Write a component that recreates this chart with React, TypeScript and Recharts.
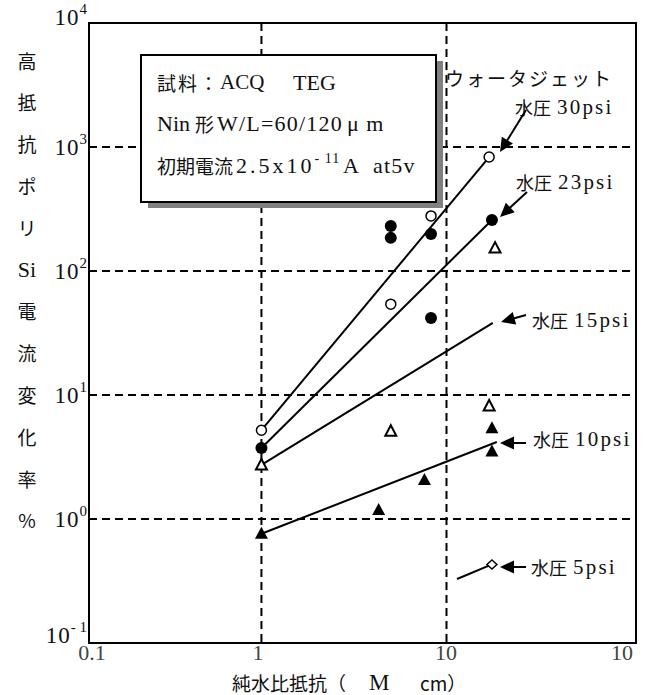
import React from 'react';
import { ComposedChart, Scatter, XAxis, YAxis, CartesianGrid, ReferenceArea } from 'recharts';

// ---- data ----
const X_DOMAIN = [0.117, 105.7];
const X_TICKS = [0.117, 1, 10, 105.7];
const X_TICK_LABELS = ['0.1', '1', '10', '10'];
const Y_DOMAIN = [0.1, 10000];
const Y_TICKS = [0.1, 1, 10, 100, 1000, 10000];

// 水圧 30psi (open circles)
const P30 = [
  { x: 1, y: 5.2 },
  { x: 5.0, y: 54 },
  { x: 8.25, y: 278 },
  { x: 17.0, y: 830 },
];
// 水圧 23psi (filled circles)
const P23 = [
  { x: 1, y: 3.74 },
  { x: 5.0, y: 231 },
  { x: 5.0, y: 185 },
  { x: 8.25, y: 199 },
  { x: 8.25, y: 41.8 },
  { x: 17.6, y: 258 },
];
// 水圧 15psi (open triangles)
const P15 = [
  { x: 1, y: 2.73 },
  { x: 5.0, y: 5.1 },
  { x: 17.0, y: 8.15 },
  { x: 18.3, y: 153 },
];
// 水圧 10psi (filled triangles)
const P10 = [
  { x: 1, y: 0.76 },
  { x: 4.3, y: 1.18 },
  { x: 7.6, y: 2.06 },
  { x: 17.6, y: 5.4 },
  { x: 17.6, y: 3.5 },
];
// 水圧 5psi (open diamond)
const P5 = [{ x: 17.6, y: 0.43 }];

// fitted lines
const L30 = [{ x: 1, y: 5.2 }, { x: 17.0, y: 830 }];
const L23 = [{ x: 1, y: 3.74 }, { x: 17.6, y: 258 }];
const L15 = [{ x: 1, y: 2.73 }, { x: 17.8, y: 38.1 }];
const L10 = [{ x: 1, y: 0.76 }, { x: 18.7, y: 4.18 }];
const L5 = [{ x: 11.4, y: 0.328 }, { x: 17.6, y: 0.43 }];

const Y_TITLE = ['高', '抵', '抗', 'ポ', 'リ', 'Si', '電', '流', '変', '化', '率', '%'];

const SERIF = "'Liberation Serif', 'DejaVu Serif', serif";
const CJK = "'Noto Sans CJK JP', 'Noto Sans', sans-serif";

const OpenCircle = (p: any) => <circle cx={p.cx} cy={p.cy} r={5} fill="#fff" stroke="#000" strokeWidth={1.5} />;
const FilledCircle = (p: any) => <circle cx={p.cx} cy={p.cy} r={6} fill="#000" />;
const OpenTri = (p: any) => (
  <polygon
    points={`${p.cx},${p.cy - 6} ${p.cx - 5.5},${p.cy + 4.5} ${p.cx + 5.5},${p.cy + 4.5}`}
    fill="#fff"
    stroke="#000"
    strokeWidth={2}
  />
);
const FilledTri = (p: any) => (
  <polygon points={`${p.cx},${p.cy - 7} ${p.cx - 6.5},${p.cy + 5} ${p.cx + 6.5},${p.cy + 5}`} fill="#000" />
);
const Diamond = (p: any) => (
  <polygon
    points={`${p.cx},${p.cy - 4.5} ${p.cx + 5},${p.cy} ${p.cx},${p.cy + 4.5} ${p.cx - 5},${p.cy}`}
    fill="#fff"
    stroke="#000"
    strokeWidth={1.5}
  />
);
const NoDot = () => <g />;

const YTick = (props: any) => {
  const { x, y, payload } = props;
  const e = Math.round(Math.log10(payload.value));
  const shift = e === 4 ? -6 : e === -1 ? -8 : 0;
  const sup = e < 0 ? '- ' + -e : String(e);
  return (
    <text x={x + 1} y={y + shift} textAnchor="end" dominantBaseline="central" fontFamily={SERIF} fontSize={23} fill="#111">
      <tspan letterSpacing={1}>10</tspan>
      <tspan fontSize={15} dy={-8}>
        {sup}
      </tspan>
    </text>
  );
};

const XTick = (props: any) => {
  const { x, y, index } = props;
  const offs = [3, -3.5, -0.5, -14];
  return (
    <text x={x + offs[index]} y={y + 9} textAnchor="middle" dominantBaseline="central" fontFamily={SERIF} fontSize={22} fill="#444">
      {X_TICK_LABELS[index]}
    </text>
  );
};

const Arrow = ({ x1, y1, x2, y2 }: any) => {
  const dx = x2 - x1;
  const dy = y2 - y1;
  const len = Math.hypot(dx, dy);
  const ux = dx / len;
  const uy = dy / len;
  const hl = 14;
  const hw = 6.5;
  const bx = x2 - ux * hl;
  const by = y2 - uy * hl;
  const px = -uy;
  const py = ux;
  return (
    <g>
      <line x1={x1} y1={y1} x2={bx + ux * 2} y2={by + uy * 2} stroke="#000" strokeWidth={2} />
      <polygon points={`${x2},${y2} ${bx + px * hw},${by + py * hw} ${bx - px * hw},${by - py * hw}`} fill="#000" />
    </g>
  );
};

const PressLabel = ({ x, y, num }: any) => (
  <text x={x} y={y} dominantBaseline="central" fill="#111">
    <tspan fontFamily={CJK} fontSize={18}>水圧</tspan>
    <tspan fontFamily={SERIF} fontSize={21} dx={6} letterSpacing={2.2}>{num}psi</tspan>
  </text>
);

export default function App() {
  return (
    <div style={{ position: 'absolute', left: 0, top: 0, width: 649, height: 695, background: '#fff' }}>
      <ComposedChart width={649} height={695} margin={{ top: 23, right: 13, bottom: 0, left: 0 }}>
        <CartesianGrid stroke="#000" strokeWidth={2} strokeDasharray="8 5" />
        <XAxis
          dataKey="x"
          type="number"
          scale="log"
          domain={X_DOMAIN}
          ticks={X_TICKS}
          allowDataOverflow
          height={52}
          axisLine={false}
          tickLine={false}
          tickSize={0}
          tickMargin={0}
          tick={<XTick />}
          interval={0}
        />
        <YAxis
          dataKey="y"
          type="number"
          scale="log"
          domain={Y_DOMAIN}
          ticks={Y_TICKS}
          allowDataOverflow
          width={89}
          axisLine={false}
          tickLine={false}
          tickSize={0}
          tickMargin={3}
          tick={<YTick />}
          interval={0}
        />
        <ReferenceArea
          x1={X_DOMAIN[0]}
          x2={X_DOMAIN[1]}
          y1={Y_DOMAIN[0]}
          y2={Y_DOMAIN[1]}
          fill="none"
          stroke="#000"
          strokeWidth={2}
          ifOverflow="visible"
        />
        <Scatter data={L30} line={{ stroke: '#000', strokeWidth: 2 }} shape={NoDot} isAnimationActive={false} />
        <Scatter data={L23} line={{ stroke: '#000', strokeWidth: 2 }} shape={NoDot} isAnimationActive={false} />
        <Scatter data={L15} line={{ stroke: '#000', strokeWidth: 2 }} shape={NoDot} isAnimationActive={false} />
        <Scatter data={L10} line={{ stroke: '#000', strokeWidth: 2 }} shape={NoDot} isAnimationActive={false} />
        <Scatter data={L5} line={{ stroke: '#000', strokeWidth: 2 }} shape={NoDot} isAnimationActive={false} />
        <Scatter data={P30} shape={OpenCircle} isAnimationActive={false} />
        <Scatter data={P23} shape={FilledCircle} isAnimationActive={false} />
        <Scatter data={P15} shape={OpenTri} isAnimationActive={false} />
        <Scatter data={P10} shape={FilledTri} isAnimationActive={false} />
        <Scatter data={P5} shape={Diamond} isAnimationActive={false} />
      </ComposedChart>
      <svg width={649} height={695} style={{ position: 'absolute', left: 0, top: 0, pointerEvents: 'none' }}>
        {/* y-axis title, stacked vertically */}
        {Y_TITLE.map((c, i) => (
          <text
            key={i}
            x={27}
            y={60 + i * 41.8}
            textAnchor="middle"
            dominantBaseline="central"
            fontFamily={c === 'Si' ? SERIF : CJK}
            fontSize={c === 'Si' ? 22 : 19}
            fill="#111"
          >
            {c}
          </text>
        ))}
        {/* x-axis title */}
        <text y={682} dominantBaseline="central" fill="#111" fontSize={19}>
          <tspan x={232} fontFamily={CJK}>純水比抵抗（</tspan>
          <tspan x={369} fontFamily={SERIF} fontSize={23}>M</tspan>
          <tspan x={420} fontFamily={CJK}>cm）</tspan>
        </text>
        {/* info box */}
        <rect x={148} y={61} width={295} height={147} fill="#808080" />
        <rect x={141} y={55} width={295} height={147} fill="#fff" stroke="#000" strokeWidth={2} />
        <text x={157} y={82} dominantBaseline="central" fill="#111">
          <tspan fontFamily={CJK} fontSize={19} letterSpacing={2}>試料：</tspan>
          <tspan fontFamily={SERIF} fontSize={21} x={220}>ACQ</tspan>
          <tspan fontFamily={SERIF} fontSize={22} x={293}>TEG</tspan>
        </text>
        <text x={157} y={123} dominantBaseline="central" fill="#111">
          <tspan fontFamily={SERIF} fontSize={22}>Nin</tspan>
          <tspan fontFamily={CJK} fontSize={19} x={195}>形</tspan>
          <tspan fontFamily={SERIF} fontSize={22} x={217} letterSpacing={1.2}>W/L=60/120</tspan>
          <tspan fontFamily={SERIF} fontSize={22} x={347} letterSpacing={1}>μ m</tspan>
        </text>
        <text x={157} y={165} dominantBaseline="central" fill="#111">
          <tspan fontFamily={CJK} fontSize={19}>初期電流</tspan>
          <tspan fontFamily={SERIF} fontSize={22} x={236} letterSpacing={3}>2.5x10</tspan>
          <tspan fontFamily={SERIF} fontSize={14} dy={-7} letterSpacing={1}>- 11</tspan>
          <tspan fontFamily={SERIF} fontSize={22} dy={7} x={343}>A</tspan>
          <tspan fontFamily={SERIF} fontSize={22} x={373} letterSpacing={1.2}>at5v</tspan>
        </text>
        {/* annotations */}
        <text x={445} y={77} dominantBaseline="central" fontFamily={CJK} fontSize={19} letterSpacing={2} fill="#111">
          ウォータジェット
        </text>
        <PressLabel x={515} y={107} num="30" />
        <Arrow x1={526} y1={110} x2={500} y2={152} />
        <PressLabel x={516} y={182} num="23" />
        <Arrow x1={527} y1={192} x2={500} y2={217} />
        <PressLabel x={532} y={320} num="15" />
        <Arrow x1={526} y1={315} x2={501} y2={322} />
        <PressLabel x={533} y={439} num="10" />
        <Arrow x1={526} y1={443} x2={500} y2={443} />
        <PressLabel x={531} y={567} num="5" />
        <Arrow x1={526} y1={567} x2={500} y2={567} />
      </svg>
    </div>
  );
}
